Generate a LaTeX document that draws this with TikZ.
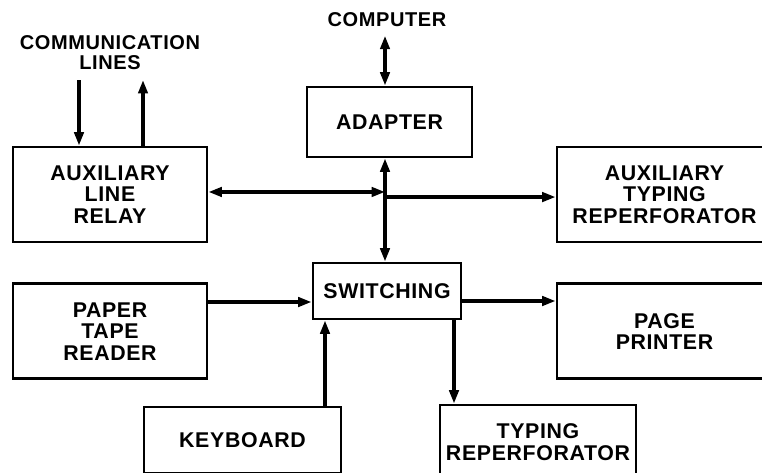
\documentclass[tikz,border=0pt]{standalone}
\usepackage{fontspec}
\setmainfont[LetterSpace=3]{Liberation Sans}
\usetikzlibrary{arrows.meta, positioning}

\begin{document}
\begin{tikzpicture}[
  x=0.75pt, y=-0.75pt,
  block/.style={draw, line width=2.2pt, align=center, inner sep=0pt,
    font=\bfseries\fontsize{16}{16.2}\selectfont},
  tag/.style={align=center, font=\bfseries\fontsize{15}{15}\selectfont},
  edge/.style={-{Triangle[length=10pt, width=7pt]}, line width=2.4pt},
  both/.style={{Triangle[length=10pt, width=7pt]}-{Triangle[length=10pt, width=7pt]}, line width=2.4pt}
]
\clip (0,0) rectangle (762,472);

\node[block, minimum width=123.75pt, minimum height=52.5pt] (adapter) at (389.5,122) {ADAPTER};
\node[block, minimum width=145.5pt, minimum height=71.25pt] (relay) at (110,194.5) {AUXILIARY\\LINE\\RELAY};
\node[block, minimum width=161.25pt, minimum height=71.25pt] (auxtyp) at (664.5,194.5) {AUXILIARY\\TYPING\\REPERFORATOR};
\node[block, minimum width=111pt, minimum height=42pt] (switching) at (387,291) {SWITCHING};
\node[block, minimum width=145.5pt, minimum height=71.25pt, below=29.25pt of relay] (reader) {PAPER\\TAPE\\READER};
\node[block, minimum width=161.25pt, minimum height=71.25pt, below=29.25pt of auxtyp] (printer) {PAGE\\PRINTER};
\node[block, minimum width=147.75pt, minimum height=49.5pt] (keyboard) at (242.5,440) {KEYBOARD};
\node[block, minimum width=147pt, minimum height=55.5pt] (typrep) at (538,442) {TYPING\\REPERFORATOR};

\node[tag] (computer) at (387,20) {COMPUTER};
\node[tag] (comm) at (110,53) {COMMUNICATION\\LINES};

% bus line under the adapter
\coordinate (bus) at (385,0);
\coordinate (linein) at ([xshift=-23.25pt]relay.north);
\coordinate (lineout) at ([xshift=24.75pt]relay.north);
\coordinate (swin) at ([yshift=-8.25pt]switching.west);
\coordinate (swout) at ([yshift=-7.5pt]switching.east);
\coordinate (kbin) at ([xshift=-46.5pt]switching.south);
\coordinate (trout) at ([xshift=50.25pt]switching.south);

\draw[both] ([yshift=-3pt]computer.south -| bus) -- (adapter.north -| bus);
\draw[both] (adapter.south -| bus) -- (switching.north -| bus);
\draw[both] ([yshift=1.9pt]relay.east) -- ([yshift=1.9pt]relay.east -| bus);
\draw[edge] ([yshift=-1.9pt]auxtyp.west -| bus) -- ([yshift=-1.9pt]auxtyp.west);
\draw[edge] ([yshift=-4pt]comm.south -| linein) -- (linein);
\draw[edge] (lineout) -- ([yshift=-4pt]comm.south -| lineout);
\draw[edge] (reader.east |- swin) -- (swin);
\draw[edge] (swout) -- (printer.west |- swout);
\draw[edge] (keyboard.north -| kbin) -- (kbin);
\draw[edge] (trout) -- (typrep.north -| trout);
\end{tikzpicture}
\end{document}
